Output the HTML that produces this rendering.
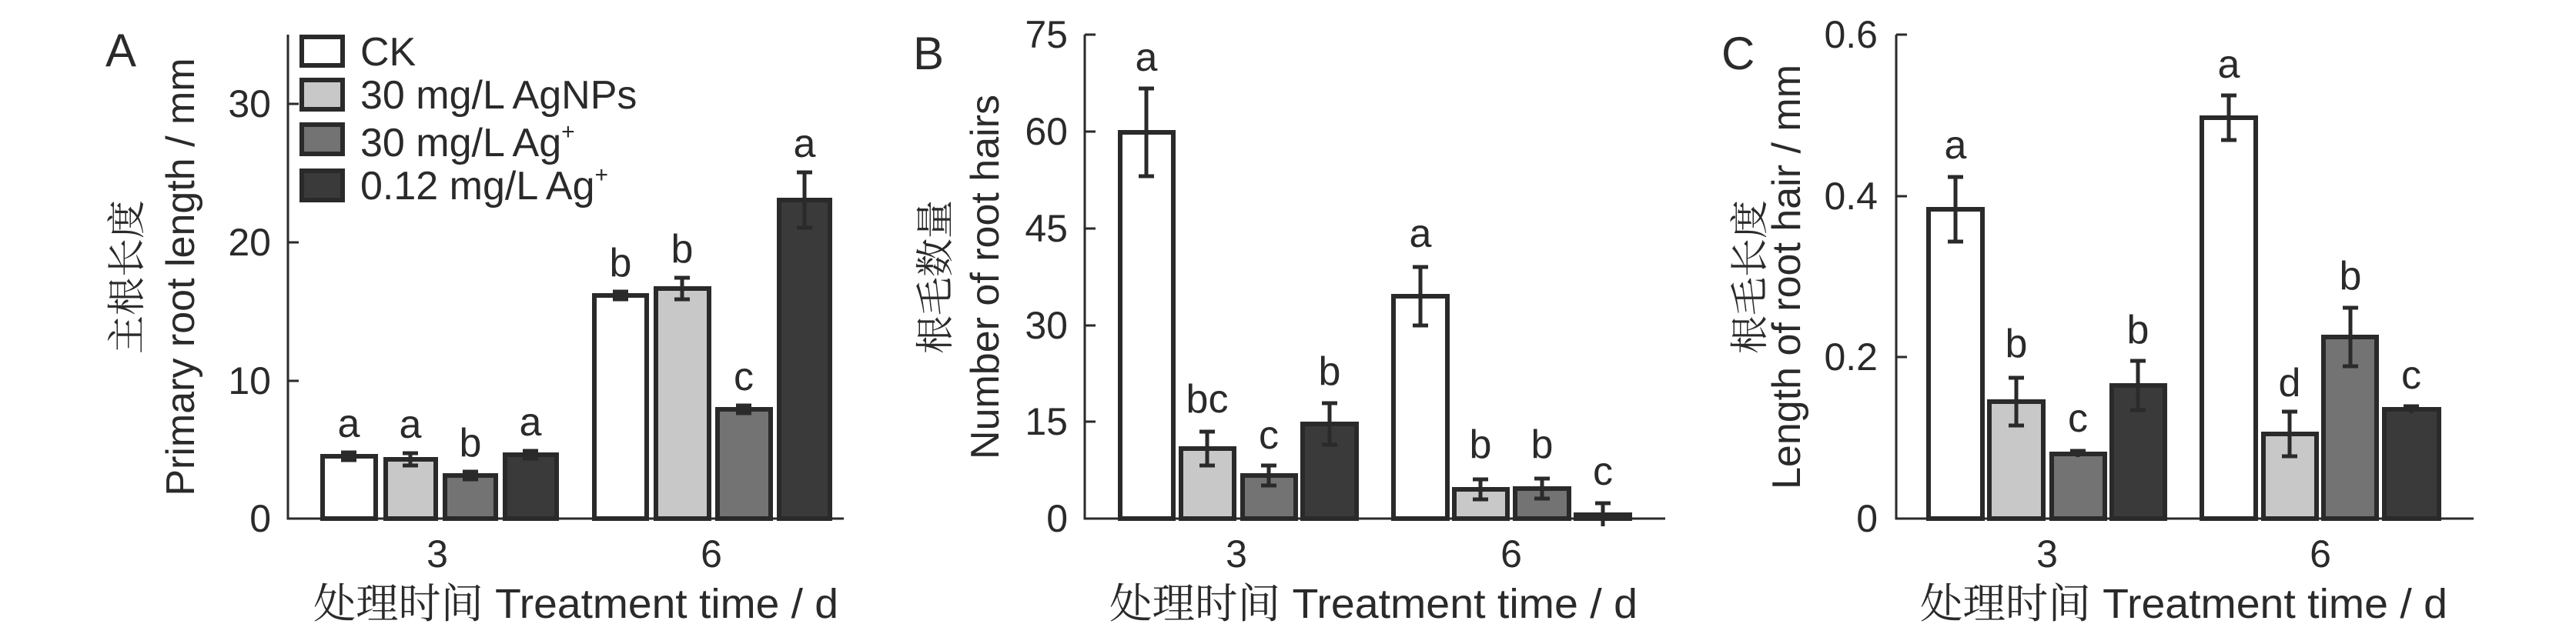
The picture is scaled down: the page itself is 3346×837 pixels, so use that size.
<!DOCTYPE html>
<html><head><meta charset="utf-8"><style>
html,body{margin:0;padding:0;background:#fff;}
svg{display:block;}
text{font-family:"Liberation Sans","Noto Sans CJK SC",sans-serif;fill:#2a2a2a;}
.cn{font-family:"Noto Serif CJK SC","Liberation Serif",serif;}
</style></head><body>
<svg width="3346" height="837" viewBox="0 0 3346 837" xmlns="http://www.w3.org/2000/svg">
<g stroke="#2a2a2a" stroke-width="6">
<!-- Panel A bars -->
<rect x="419" y="593" width="69" height="81" fill="#fff"/>
<rect x="501" y="597" width="65" height="77" fill="#c8c8c8"/>
<rect x="578" y="618" width="66" height="56" fill="#737373"/>
<rect x="656" y="591" width="67" height="83" fill="#3a3a3a"/>
<rect x="772" y="384" width="68" height="290" fill="#fff"/>
<rect x="852" y="375" width="69" height="299" fill="#c8c8c8"/>
<rect x="932" y="532" width="69" height="142" fill="#737373"/>
<rect x="1012" y="260" width="66" height="414" fill="#3a3a3a"/>
<!-- Panel B bars -->
<rect x="1455" y="172" width="69" height="502" fill="#fff"/>
<rect x="1534" y="583" width="69" height="91" fill="#c8c8c8"/>
<rect x="1614" y="618" width="69" height="56" fill="#737373"/>
<rect x="1692" y="551" width="70" height="123" fill="#3a3a3a"/>
<rect x="1810" y="385" width="70" height="289" fill="#fff"/>
<rect x="1889" y="636" width="69" height="38" fill="#c8c8c8"/>
<rect x="1968" y="635" width="70" height="39" fill="#737373"/>
<rect x="2047" y="669" width="70" height="5" fill="#3a3a3a"/>
<!-- Panel C bars -->
<rect x="2505" y="272" width="70" height="402" fill="#fff"/>
<rect x="2584" y="522" width="70" height="152" fill="#c8c8c8"/>
<rect x="2665" y="590" width="69" height="84" fill="#737373"/>
<rect x="2743" y="501" width="69" height="173" fill="#3a3a3a"/>
<rect x="2860" y="153" width="70" height="521" fill="#fff"/>
<rect x="2940" y="564" width="69" height="110" fill="#c8c8c8"/>
<rect x="3018" y="438" width="69" height="236" fill="#737373"/>
<rect x="3097" y="532" width="71" height="142" fill="#3a3a3a"/>
<!-- legend boxes -->
<rect x="392" y="48" width="53" height="37" fill="#fff"/>
<rect x="392" y="104" width="53" height="38" fill="#c8c8c8"/>
<rect x="392" y="162" width="53" height="38" fill="#737373"/>
<rect x="392" y="222" width="53" height="38" fill="#3a3a3a"/>
</g>
<!-- error bars -->
<g stroke="#2a2a2a" stroke-width="5" fill="none">
<path d="M453,588V598M443,588H463M443,598H463"/>
<path d="M533,589V605M523,589H543M523,605H543"/>
<path d="M611,613V623M601,613H621M601,623H621"/>
<path d="M689,586V596M679,586H699M679,596H699"/>
<path d="M806,379V389M796,379H816M796,389H816"/>
<path d="M886,361V389M876,361H896M876,389H896"/>
<path d="M966,527V537M956,527H976M956,537H976"/>
<path d="M1045,224V296M1035,224H1055M1035,296H1055"/>
<path d="M1489,115V229M1479,115H1499M1479,229H1499"/>
<path d="M1568,561V605M1558,561H1578M1558,605H1578"/>
<path d="M1648,605V631M1638,605H1658M1638,631H1658"/>
<path d="M1727,524V578M1717,524H1737M1717,578H1737"/>
<path d="M1845,347V423M1835,347H1855M1835,423H1855"/>
<path d="M1923,623V649M1913,623H1933M1913,649H1933"/>
<path d="M2003,622V648M1993,622H2013M1993,648H2013"/>
<path d="M2082,654V684M2072,654H2092"/>
<path d="M2540,230V314M2530,230H2550M2530,314H2550"/>
<path d="M2619,491V553M2609,491H2629M2609,553H2629"/>
<path d="M2699,586V594M2689,586H2709"/>
<path d="M2777,469V533M2767,469H2787M2767,533H2787"/>
<path d="M2895,124V182M2885,124H2905M2885,182H2905"/>
<path d="M2974,535V593M2964,535H2984M2964,593H2984"/>
<path d="M3053,400V476M3043,400H3063M3043,476H3063"/>
<path d="M3132,528V537M3122,528H3142"/>
</g>
<!-- axes -->
<g stroke="#2a2a2a" stroke-width="3" fill="none">
<path d="M374,45V674H1096M374,135H388M374,315H388M374,495H388"/>
<path d="M1409,45V674H2163M1409,45H1423M1409,171H1423M1409,297H1423M1409,423H1423M1409,548H1423"/>
<path d="M2463,45V674H3213M2463,45H2477M2463,255H2477M2463,464H2477"/>
</g>
<!-- tick labels -->
<g font-size="50" text-anchor="end">
<text x="352" y="152">30</text><text x="352" y="332">20</text><text x="352" y="512">10</text><text x="352" y="691">0</text>
<text x="1387" y="62">75</text><text x="1387" y="188">60</text><text x="1387" y="314">45</text><text x="1387" y="440">30</text><text x="1387" y="565">15</text><text x="1387" y="691">0</text>
<text x="2439" y="62">0.6</text><text x="2439" y="272">0.4</text><text x="2439" y="481">0.2</text><text x="2439" y="691">0</text>
</g>
<g font-size="50" text-anchor="middle">
<text x="568" y="737">3</text><text x="924" y="737">6</text>
<text x="1606" y="737">3</text><text x="1963" y="737">6</text>
<text x="2659" y="737">3</text><text x="3014" y="737">6</text>
</g>
<!-- significance letters -->
<g font-size="52" text-anchor="middle">
<text x="453" y="568">a</text><text x="533" y="569">a</text><text x="611" y="593">b</text><text x="689" y="566">a</text>
<text x="806" y="359">b</text><text x="886" y="341">b</text><text x="966" y="507">c</text><text x="1045" y="204">a</text>
<text x="1489" y="92">a</text><text x="1568" y="536">bc</text><text x="1648" y="583">c</text><text x="1727" y="500">b</text>
<text x="1845" y="321">a</text><text x="1923" y="595">b</text><text x="2003" y="595">b</text><text x="2082" y="630">c</text>
<text x="2540" y="206">a</text><text x="2619" y="464">b</text><text x="2699" y="561">c</text><text x="2777" y="446">b</text>
<text x="2895" y="101">a</text><text x="2974" y="515">d</text><text x="3053" y="376">b</text><text x="3132" y="505">c</text>
</g>
<!-- legend text -->
<g font-size="52">
<text x="468" y="85">CK</text>
<text x="468" y="141">30 mg/L AgNPs</text>
<text x="468" y="203">30 mg/L Ag<tspan font-size="30" dy="-22">+</tspan></text>
<text x="468" y="259">0.12 mg/L Ag<tspan font-size="30" dy="-22">+</tspan></text>
</g>
<!-- panel letters -->
<g font-size="60">
<text x="137" y="86">A</text>
<text x="1186" y="90">B</text>
<text x="2236" y="90">C</text>
</g>
<!-- y titles -->
<text font-size="52" text-anchor="middle" transform="translate(252,360) rotate(-90)">Primary root length / mm</text>
<text class="cn" font-size="50" text-anchor="middle" transform="translate(182,360) rotate(-90)">主根长度</text>
<text font-size="52" text-anchor="middle" transform="translate(1297,360) rotate(-90)">Number of root hairs</text>
<text class="cn" font-size="50" text-anchor="middle" transform="translate(1232,360) rotate(-90)">根毛数量</text>
<text font-size="52" text-anchor="middle" transform="translate(2338,360) rotate(-90)">Length of root hair / mm</text>
<text class="cn" font-size="50" text-anchor="middle" transform="translate(2290,360) rotate(-90)">根毛长度</text>
<!-- x titles -->
<g font-size="54">
<text x="407" y="803" textLength="682" lengthAdjust="spacingAndGlyphs"><tspan class="cn">处理时间</tspan> Treatment time / d</text>
<text x="1441" y="803" textLength="686" lengthAdjust="spacingAndGlyphs"><tspan class="cn">处理时间</tspan> Treatment time / d</text>
<text x="2494" y="803" textLength="685" lengthAdjust="spacingAndGlyphs"><tspan class="cn">处理时间</tspan> Treatment time / d</text>
</g>
</svg>
</body></html>
